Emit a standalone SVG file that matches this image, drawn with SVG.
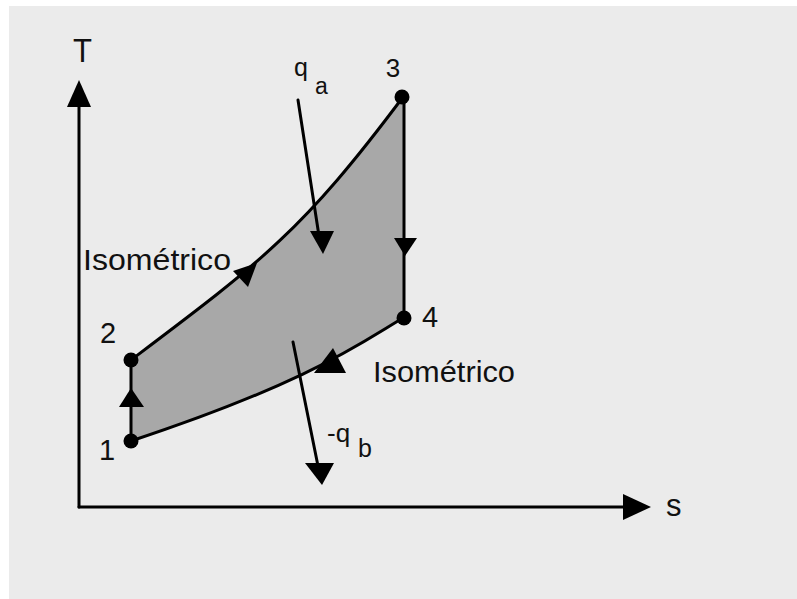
<svg xmlns="http://www.w3.org/2000/svg" width="797" height="599" viewBox="0 0 797 599">
  <style>
    .ln { stroke: #000; stroke-width: 3; fill: none; stroke-linecap: round; stroke-linejoin: round; }
    .ah { fill: #000; stroke: none; }
    .dot { fill: #000; }
    .lbl { font-family: "Liberation Sans", Arial, sans-serif; fill: #111; }
  </style>
  <rect x="0" y="0" width="797" height="599" fill="#ffffff"/>
  <rect x="9" y="6" width="788" height="593" fill="#ebebeb"/>

  <g id="cycle-area">
    <path d="M131,360 C261,262 302,232 403,97 L403,318 C364,340.8 311,381.6 131,441 Z" fill="#a8a8a8" stroke="none"/>
  </g>

  <g id="connectors">
    <!-- axes -->
    <line class="ln" x1="79" y1="507" x2="79" y2="100"/>
    <polygon class="ah" points="79,80 67,107 91,107"/>
    <line class="ln" x1="79" y1="507" x2="630" y2="507"/>
    <polygon class="ah" points="651,507 623,494 623,520"/>
    <!-- 1 -> 2 -->
    <line class="ln" x1="131" y1="441" x2="131" y2="360"/>
    <polygon class="ah" points="131,388 119,407 144,407"/>
    <!-- 2 -> 3 -->
    <path class="ln" d="M131,360 C261,262 302,232 403,97"/>
    <polygon class="ah" points="257,263 233,271 248,287"/>
    <!-- 3 -> 4 -->
    <line class="ln" x1="404" y1="97" x2="404" y2="318"/>
    <polygon class="ah" points="405,256 394,238 417,238"/>
    <!-- 4 -> 1 -->
    <path class="ln" d="M403,318 C364,340.8 311,381.6 131,441"/>
    <polygon class="ah" points="314,373 333,348 346,373"/>
    <!-- q_a -->
    <line class="ln" x1="298" y1="100" x2="319" y2="236"/>
    <polygon class="ah" points="323,254 310,231 334,231"/>
    <!-- -q_b -->
    <line class="ln" x1="293" y1="342" x2="318" y2="466"/>
    <polygon class="ah" points="322,485 305,463 334,463"/>
  </g>

  <g id="node-1"><circle class="dot" cx="131" cy="441" r="7.5"/><text class="lbl" x="107" y="460" font-size="29" text-anchor="middle">1</text></g>
  <g id="node-2"><circle class="dot" cx="131" cy="360" r="7.5"/><text class="lbl" x="108" y="343" font-size="29" text-anchor="middle">2</text></g>
  <g id="node-3"><circle class="dot" cx="402" cy="97" r="7.5"/><text class="lbl" x="393" y="77" font-size="26" text-anchor="middle">3</text></g>
  <g id="node-4"><circle class="dot" cx="404" cy="318" r="7.5"/><text class="lbl" x="430" y="327" font-size="29" text-anchor="middle">4</text></g>

  <g id="labels">
    <text class="lbl" x="73" y="62" font-size="34" textLength="19" lengthAdjust="spacingAndGlyphs">T</text>
    <text class="lbl" x="666" y="516" font-size="31">s</text>
    <text class="lbl" x="83" y="270" font-size="30" textLength="148" lengthAdjust="spacingAndGlyphs">Isométrico</text>
    <text class="lbl" x="373" y="382" font-size="30" textLength="142" lengthAdjust="spacingAndGlyphs">Isométrico</text>
    <text class="lbl" x="294" y="76" font-size="25">q</text>
    <text class="lbl" x="315" y="94" font-size="23">a</text>
    <text class="lbl" x="327" y="442" font-size="26">-q</text>
    <text class="lbl" x="358" y="457" font-size="25">b</text>
  </g>
</svg>
